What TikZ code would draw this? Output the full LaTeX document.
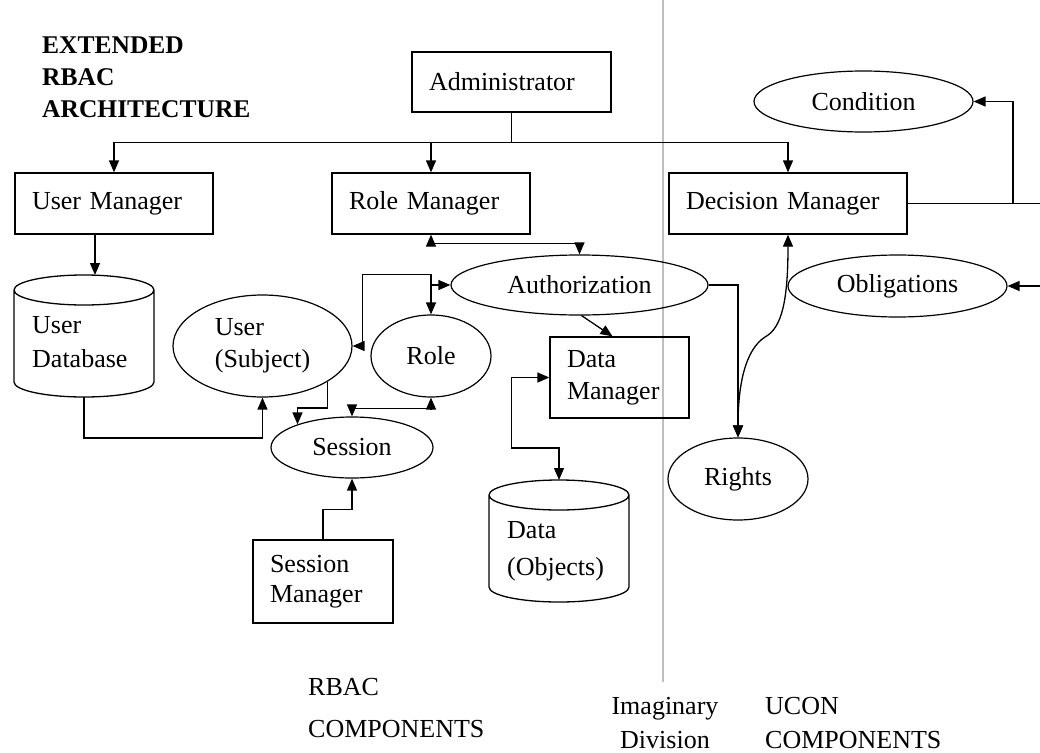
\documentclass[tikz,border=0pt]{standalone}
\usepackage{fontspec}
\setmainfont{Liberation Serif}
\usetikzlibrary{shapes.geometric,arrows.meta}

\begin{document}
\begin{tikzpicture}[x=1pt,y=-1pt,
  every node/.style={font=\fontsize{26}{32}\selectfont},
  line/.style={line width=1.3pt},
  arr/.style={line, -{Triangle[length=12pt,width=10pt]}},
  biarr/.style={line, {Triangle[length=12pt,width=10pt]}-{Triangle[length=12pt,width=10pt]}},
  box/.style={draw, line width=1.3pt, rectangle, inner xsep=17pt, inner ysep=0pt, align=left},
  oval/.style={draw, line width=1.2pt, ellipse, inner sep=0pt, align=center},
  store/.style={inner sep=0pt, outer sep=0pt},
  storeline/.style={line width=1.3pt},
  txt/.style={inner sep=0pt, align=left, anchor=base west},
  divider/.style={black!25, line width=2pt},
]
% page
\fill[white] (0,0) rectangle (1040,752);
\useasboundingbox (0,0) rectangle (1040,752);

% imaginary division between the two halves
\draw[divider] (663,0) -- (663,682);

% heading (anchored on the baseline of its last line)
\node[txt, font=\fontsize{25.5}{32}\selectfont\bfseries] (title) at (42,117)
  {EXTENDED\\RBAC\\ARCHITECTURE};

% managers
\node[box, minimum height=60pt, text width=165pt] (admin) at (511.5,82) {Administrator};
\node[box, minimum height=61pt, text width=164pt] (um) at (114,203.5) {User Manager};
\node[box, minimum height=61pt, text width=164pt] (rm) at (431,203.5) {Role Manager};
\node[box, minimum height=61pt, text width=204pt] (dm) at (788,203.5) {Decision Manager};
\node[box, minimum height=81pt, text width=105pt] (dataman) at (619.5,377.5) {Data\\Manager};
\node[box, minimum height=83pt, text width=106pt, font=\fontsize{26}{30}\selectfont] (sm) at (323,581.5) {Session\\Manager};

% entities
\node[oval, minimum width=219pt, minimum height=61pt] (cond) at (863.5,101.5) {Condition};
\node[oval, minimum width=219pt, minimum height=62pt] (obl) at (897.5,286) {Obligations};
\node[oval, minimum width=257pt, minimum height=60pt] (auth) at (579.5,285) {Authorization};
\node[oval, minimum width=179pt, minimum height=102pt, align=left] (user) at (262.5,346) {User\\(Subject)};
\node[oval, minimum width=120pt, minimum height=82pt] (role) at (431,356) {Role};
\node[oval, minimum width=162pt, minimum height=61pt] (sess) at (352,447.5) {Session};
\node[oval, minimum width=140pt, minimum height=82pt] (rights) at (738,479) {Rights};

% data stores
\node[store, minimum width=140pt, minimum height=122pt] (udb) at (84,336) {};
\node[store, minimum width=140pt, minimum height=122pt] (data) at (559,541) {};
\foreach \s in {udb,data}{
  \draw[storeline] ([yshift=-15pt]\s.north west) -- ([yshift=15pt]\s.south west)
    arc[start angle=180, end angle=360, x radius=70pt, y radius=15pt]
    -- ([yshift=-15pt]\s.north east)
    arc[start angle=0, end angle=360, x radius=70pt, y radius=15pt];
}
\node[txt, font=\fontsize{26}{34}\selectfont] (udbtext) at (32,367) {User\\Database};
\node[txt, font=\fontsize{26}{37}\selectfont] (datatext) at (507,575) {Data\\(Objects)};

% administrator feeds the managers
\draw[line] (admin.south) -- ++(0,30) coordinate (bus);
\draw[arr] (bus) -| (um.north);
\draw[arr] (bus) -| (dm.north);
\draw[arr] (rm.north |- bus) -- (rm.north);

% decision manager on the UCON side
\coordinate (edgeA) at (1040,203.5);
\coordinate (edgeB) at (1040,286);
\coordinate (jn) at (1013,203.5);
\draw[line] (dm.east) -- (edgeA);
\draw[arr] (jn) |- (cond.east);
\draw[arr] (edgeB) -- (obl.east);
\draw[biarr] (dm.south) .. controls (788,300) and (782,328) .. (765,337)
  .. controls (745,350) and (738,385) .. (rights.north);

% role manager and authorization
\draw[biarr] (rm.south) -- ++(0,9) -| (auth.north);
\draw[biarr] (user.east) -- ++(10,0) |- ([yshift=40pt]role.north) -- (role.north);
\draw[arr] (role.north |- auth.west) -- (auth.west);
\draw[arr] ([xshift=2pt]auth.south) -- ([xshift=-7pt]dataman.north);
\draw[arr] (auth.east) -| (rights.north);

% users and sessions
\draw[arr] ([xshift=-19pt]um.south) -- ([xshift=-19pt]um.south |- udb.north);
\draw[arr] (udb.south) -- ++(0,41) -| (user.south);
\draw[arr] (user.-29.5) -- ++(0,26) -| (sess.157.8);
\draw[biarr] (role.south) -- ++(0,11) -| (sess.north);
\draw[arr] (sm.north) -- ++(0,-30) -| (sess.south);

% data access
\draw[biarr] (dataman.west) -- ++(-38,0) |- ([yshift=32pt]data.north) -- (data.north);

% captions (anchored on the baseline of their last line)
\node[txt, font=\fontsize{26}{42}\selectfont] (rbac) at (308,737) {RBAC\\COMPONENTS};
\node[txt, anchor=base, align=center, font=\fontsize{26}{34}\selectfont] (imag) at (665,748) {Imaginary\\Division};
\node[txt, font=\fontsize{26}{34}\selectfont] (ucon) at (765,748) {UCON\\COMPONENTS};
\end{tikzpicture}
\end{document}
